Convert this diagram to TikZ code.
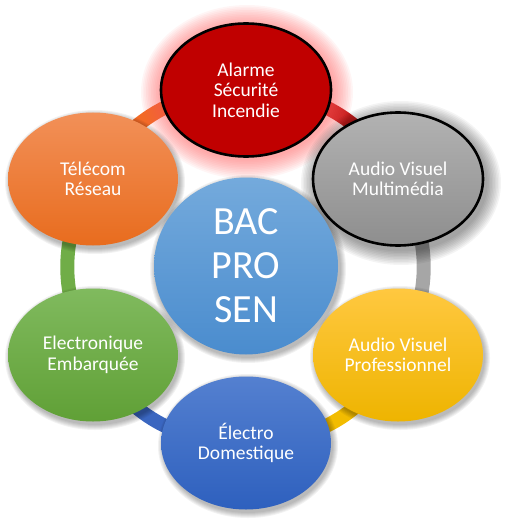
\documentclass[tikz,border=0pt]{standalone}
\usepackage{fontspec}
\setmainfont{Carlito}
\usetikzlibrary{shapes.geometric,calc}
\pgfdeclarelayer{conn}
\pgfsetlayers{conn,main}
\definecolor{redfill}{HTML}{C00000}
\definecolor{glowred}{HTML}{FF5A5A}
\definecolor{graytop}{HTML}{B2B2B2}
\definecolor{graybot}{HTML}{8E8E8E}
\definecolor{orangetop}{HTML}{F29058}
\definecolor{orangebot}{HTML}{E86C1E}
\definecolor{greentop}{HTML}{80BA5E}
\definecolor{greenbot}{HTML}{60A036}
\definecolor{yellowtop}{HTML}{FFC840}
\definecolor{yellowbot}{HTML}{EEB400}
\definecolor{bluetop}{HTML}{5480D0}
\definecolor{bluebot}{HTML}{2E60BE}
\definecolor{centertop}{HTML}{74AADC}
\definecolor{centerbot}{HTML}{4A8CCE}
\definecolor{lkorange}{HTML}{F26A26}
\definecolor{lkred}{HTML}{C41C1C}
\definecolor{lkgray}{HTML}{A6A6A6}
\definecolor{lkyellow}{HTML}{F2BC00}
\definecolor{lkblue}{HTML}{3A66C0}
\definecolor{lkgreen}{HTML}{70AD47}
\newcommand\mkshadow[8]{% x,y,rx,ry,color,spread,layers,opacity
  \foreach \k in {1,...,#7}{%
    \fill[#5, opacity=#8] (#1,#2) ellipse ({(#3+#6*\k/#7)*1pt} and {(#4+#6*\k/#7)*1pt});}}
\tikzset{
  bubble/.style={ellipse, minimum width=170pt, minimum height=133pt, inner sep=0pt,
    text=white, align=center, font=\fontsize{19.5}{20.5}\selectfont},
  ringlink/.style={line width=14pt},
}
\begin{document}
\begin{tikzpicture}[x=1pt,y=1pt]
\useasboundingbox (0,0) rectangle (509,-524);
% shadows and glows
\mkshadow{247}{-92}{86}{67}{glowred}{20}{12}{0.06}
\mkshadow{401}{-183}{85}{67}{black}{15}{10}{0.045}
\mkshadow{95}{-182}{84}{66}{black}{6}{6}{0.05}
\mkshadow{95}{-358}{84}{66}{black}{6}{6}{0.05}
\mkshadow{400}{-358}{84}{66}{black}{6}{6}{0.05}
\mkshadow{248}{-446}{84}{66}{black}{6}{6}{0.05}
\mkshadow{248}{-269}{92}{88}{black}{6}{6}{0.05}
% nodes
\node[bubble, fill=redfill, draw=black, line width=2.6pt] (alarme) at (246,-90) {Alarme\\Sécurité\\Incendie};
\node[bubble, top color=graytop, bottom color=graybot, draw=black, line width=2.6pt] (multi) at (398,-179) {Audio Visuel\\Multimédia};
\node[bubble, top color=orangetop, bottom color=orangebot] (telecom) at (93,-179) {Télécom\\Réseau};
\node[bubble, top color=greentop, bottom color=greenbot] (embarq) at (93,-355) {Electronique\\Embarquée};
\node[bubble, top color=yellowtop, bottom color=yellowbot] (pro) at (398,-355) {Audio Visuel\\Professionnel};
\node[bubble, top color=bluetop, bottom color=bluebot] (electro) at (246,-443) {Électro\\Domestique};
\node[ellipse, minimum width=184pt, minimum height=177pt, inner sep=0pt, top color=centertop, bottom color=centerbot,
  text=white, align=center, font=\fontsize{40}{44}\selectfont] (bac) at (246,-266) {BAC\\PRO\\SEN};
% ring connectors
\begin{pgfonlayer}{conn}
\draw[ringlink, lkorange] (telecom.center) to[bend left=30] (alarme.center);
\draw[ringlink, lkred] (alarme.center) to[bend left=30] (multi.center);
\draw[ringlink, lkgray] (multi.center) to[bend left=30] (pro.center);
\draw[ringlink, lkyellow] (pro.center) to[bend left=30] (electro.center);
\draw[ringlink, lkblue] (electro.center) to[bend left=30] (embarq.center);
\draw[ringlink, lkgreen] (embarq.center) to[bend left=30] (telecom.center);
\end{pgfonlayer}
\end{tikzpicture}
\end{document}
